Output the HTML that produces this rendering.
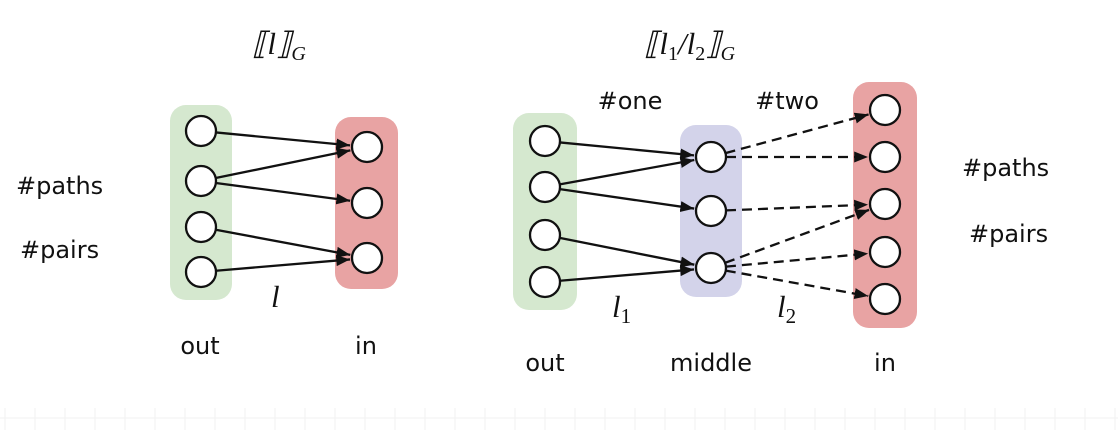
<!DOCTYPE html>
<html><head><meta charset="utf-8"><style>
body{margin:0;background:#fff;width:1118px;height:430px;overflow:hidden}
svg{display:block}
.t{font-family:"DejaVu Sans","Liberation Sans",sans-serif;font-size:24px;fill:#111}
.m{font-family:"Liberation Serif",serif;font-style:italic;font-size:31px;fill:#111}
</style></head><body>
<svg id="s" width="1118" height="430" viewBox="0 0 1118 430">
<defs><marker id="ar" viewBox="0 0 10 10" refX="10" refY="5" markerWidth="6" markerHeight="6" orient="auto"><path d="M0,1 L10,5 L0,9 z" fill="#111"/></marker></defs>
<line x1="0" y1="418" x2="1118" y2="418" stroke="#f2f2f2"/>
<g id="ticks"></g>
<rect x="170" y="105" width="62" height="195" rx="16" fill="#d5e8cf"/>
<rect x="335" y="117" width="63" height="172" rx="16" fill="#e8a3a3"/>
<rect x="513" y="113" width="64" height="197" rx="16" fill="#d5e8cf"/>
<rect x="680" y="125" width="62" height="172" rx="16" fill="#d3d3ea"/>
<rect x="853" y="82" width="64" height="246" rx="16" fill="#e8a3a3"/>
<g id="edges"></g><g id="nodes"></g>
<text class="m" x="252" y="54">⟦l⟧<tspan font-size="20" dy="6">G</tspan></text>
<text class="m" x="644" y="54">⟦l<tspan font-size="20" font-style="normal" dy="6">1</tspan><tspan dy="-6">/l</tspan><tspan font-size="20" font-style="normal" dy="6">2</tspan><tspan dy="-6">⟧</tspan><tspan font-size="20" dy="6">G</tspan></text>
<text class="t" x="16" y="194">#paths</text>
<text class="t" x="20" y="258">#pairs</text>
<text class="t" x="962" y="176">#paths</text>
<text class="t" x="969" y="242">#pairs</text>
<text class="t" x="200" y="354" text-anchor="middle">out</text>
<text class="t" x="366" y="354" text-anchor="middle">in</text>
<text class="m" x="271" y="307">l</text>
<text class="t" x="545" y="371" text-anchor="middle">out</text>
<text class="t" x="711" y="371" text-anchor="middle">middle</text>
<text class="t" x="885" y="371" text-anchor="middle">in</text>
<text class="t" x="630" y="109" text-anchor="middle">#one</text>
<text class="t" x="787" y="109" text-anchor="middle">#two</text>
<text class="m" x="612" y="317">l<tspan font-size="21" font-style="normal" dy="6">1</tspan></text>
<text class="m" x="777" y="317">l<tspan font-size="21" font-style="normal" dy="6">2</tspan></text>
</svg>
<script>
const NS="http://www.w3.org/2000/svg";
const columns={lo:[201,[131,181,227,272]],li:[367,[147,203,258]],ro:[545,[141,187,235,282]],rm:[711,[157,211,268]],ri:[885,[110,157,204,252,299]]};
const solidEdges=[["lo",0,"li",0],["lo",1,"li",0],["lo",1,"li",1],["lo",2,"li",2],["lo",3,"li",2],["ro",0,"rm",0],["ro",1,"rm",0],["ro",1,"rm",1],["ro",2,"rm",2],["ro",3,"rm",2]];
const dashedEdges=[["rm",0,"ri",0],["rm",0,"ri",1],["rm",1,"ri",2],["rm",2,"ri",2],["rm",2,"ri",3],["rm",2,"ri",4]];
const R=15;
const eg=document.getElementById('edges'),ng=document.getElementById('nodes'),tg=document.getElementById('ticks');
function draw(list,dash){list.forEach(e=>{
 const x1=columns[e[0]][0],y1=columns[e[0]][1][e[1]],x2=columns[e[2]][0],y2=columns[e[2]][1][e[3]];
 const d=Math.hypot(x2-x1,y2-y1),ux=(x2-x1)/d,uy=(y2-y1)/d;
 const l=document.createElementNS(NS,'line');
 l.setAttribute('x1',x1+ux*R);l.setAttribute('y1',y1+uy*R);l.setAttribute('x2',x2-ux*(R+2));l.setAttribute('y2',y2-uy*(R+2));
 l.setAttribute('stroke','#111');l.setAttribute('stroke-width','2.3');l.setAttribute('marker-end','url(#ar)');
 if(dash)l.setAttribute('stroke-dasharray','10 6');
 
 
 eg.appendChild(l);});}
draw(solidEdges,false);draw(dashedEdges,true);
Object.keys(columns).forEach(k=>{columns[k][1].forEach(y=>{
 const c=document.createElementNS(NS,'circle');
 c.setAttribute('cx',columns[k][0]);c.setAttribute('cy',y);c.setAttribute('r',R);
 c.setAttribute('fill','#fff');c.setAttribute('stroke','#111');c.setAttribute('stroke-width','2.3');
 
 
 ng.appendChild(c);});});
for(let x=5;x<1118;x+=30){const l=document.createElementNS(NS,'line');
 l.setAttribute('x1',x);l.setAttribute('x2',x);l.setAttribute('y1',408);l.setAttribute('y2',430);l.setAttribute('stroke','#f2f2f2');
 
 
 tg.appendChild(l);}
</script>
</body></html>
